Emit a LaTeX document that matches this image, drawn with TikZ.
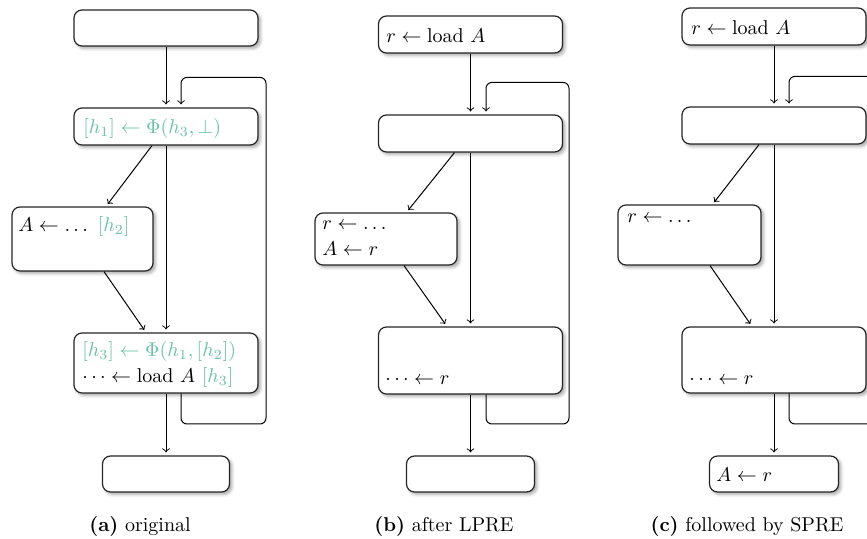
\documentclass[tikz,border=0pt]{standalone}
\usepackage{amsmath}
\usetikzlibrary{calc,shadows.blur}
\definecolor{phigreen}{RGB}{102,194,165}
\tikzset{
  blk/.style 2 args={draw=black!85, line width=0.6pt, rounded corners=4pt, fill=white,
    blur shadow={shadow xshift=1.2pt, shadow yshift=-1.2pt, shadow blur radius=1.5pt, shadow opacity=35},
    inner sep=0pt, minimum width=#1*0.5pt, minimum height=#2*0.5pt},
  flow/.style={->, line width=0.5pt, shorten >=1.5pt},
  backedge/.style={flow, rounded corners=3pt},
  txt/.style={anchor=base west, inner sep=0pt},
  phi/.style={txt, text=phigreen},
  subcap/.style={anchor=base, inner sep=0pt}
}
\begin{document}
\begin{tikzpicture}[x=0.5pt, y=-0.5pt]
\path[use as bounding box, clip] (0,0) rectangle (867,539);
% (a) original
\node[blk={184}{36}] (a1) at (166,28) {};
\node[blk={184}{37}] (a2) at (166,126.5) {};
\node[blk={141}{64}] (a3) at (82.5,239) {};
\node[blk={184}{60}] (a4) at (166,363) {};
\node[blk={127}{36}] (a5) at (166,474) {};
\node[phi] (a2t) at (83,134) {$[h_1] \gets \Phi(h_3, \bot)$};
\node[txt] (a3t) at (18,232) {$A \gets \dots$ {\color{phigreen}$[h_2]$}};
\node[phi] (a4t) at (82,357) {$[h_3] \gets \Phi(h_1, [h_2])$};
\node[txt] (a4u) at (82,383) {$\dots \gets \text{load}\ A$ {\color{phigreen}$[h_3]$}};
\draw[flow] (a1) -- (a2);
\draw[flow] ($(a2.south)+(-14,0)$) -- ($(a3.north)+(23.5,0)$);
\draw[flow] ($(a3.south)+(21.5,0)$) -- ($(a4.north)+(-20,0)$);
\draw[flow] (a2) -- (a4);
\draw[flow] (a4) -- (a5);
\draw[backedge] ($(a4.south)+(15,0)$) |- (266,424) |- ($(a2.north)+(15,-30)$) -- ($(a2.north)+(15,0)$);
\node[subcap] (acap) at (140,531) {\textbf{(a)} original};
% (b) after LPRE
\node[blk={184}{37}] (b1) at (470.5,34.5) {};
\node[blk={184}{37}] (b2) at (470.5,133.5) {};
\node[blk={142}{52}] (b3) at (386,239) {};
\node[blk={184}{67}] (b4) at (470.5,360.5) {};
\node[blk={128}{36}] (b5) at (470.5,474) {};
\node[txt] (b1t) at (386,43) {$r \gets \text{load}\ A$};
\node[txt] (b3t) at (322,230) {$r \gets \dots$};
\node[txt] (b3u) at (322,256) {$A \gets r$};
\node[txt] (b4t) at (385,385) {$\dots \gets r$};
\draw[flow] (b1) -- (b2);
\draw[flow] ($(b2.south)+(-16,0)$) -- ($(b3.north)+(20.5,0)$);
\draw[flow] ($(b3.south)+(18,0)$) -- ($(b4.north)+(-23.5,0)$);
\draw[flow] (b2) -- (b4);
\draw[flow] (b4) -- (b5);
\draw[backedge] ($(b4.south)+(15.5,0)$) |- (569,424) |- ($(b2.north)+(15.5,-32)$) -- ($(b2.north)+(15.5,0)$);
\node[subcap] (bcap) at (444,531) {\textbf{(b)} after LPRE};
% (c) followed by SPRE
\node[blk={184}{37}] (c1) at (774,26.5) {};
\node[blk={184}{37}] (c2) at (774,125.5) {};
\node[blk={143}{60}] (c3) at (689.5,235) {};
\node[blk={184}{66}] (c4) at (774,360) {};
\node[blk={129}{36}] (c5) at (774,474) {};
\node[txt] (c1t) at (691,35) {$r \gets \text{load}\ A$};
\node[txt] (c3t) at (627,223) {$r \gets \dots$};
\node[txt] (c4t) at (689,385) {$\dots \gets r$};
\node[txt] (c5t) at (716,481) {$A \gets r$};
\draw[flow] (c1) -- (c2);
\draw[flow] ($(c2.south)+(-15,0)$) -- ($(c3.north)+(23,0)$);
\draw[flow] ($(c3.south)+(20.5,0)$) -- ($(c4.north)+(-22,0)$);
\draw[flow] (c2) -- (c4);
\draw[flow] (c4) -- (c5);
\draw[backedge] ($(c4.south)+(15,0)$) |- (872,424) |- ($(c2.north)+(15,-30)$) -- ($(c2.north)+(15,0)$);
\node[subcap] (ccap) at (747,531) {\textbf{(c)} followed by SPRE};
\end{tikzpicture}
\end{document}
